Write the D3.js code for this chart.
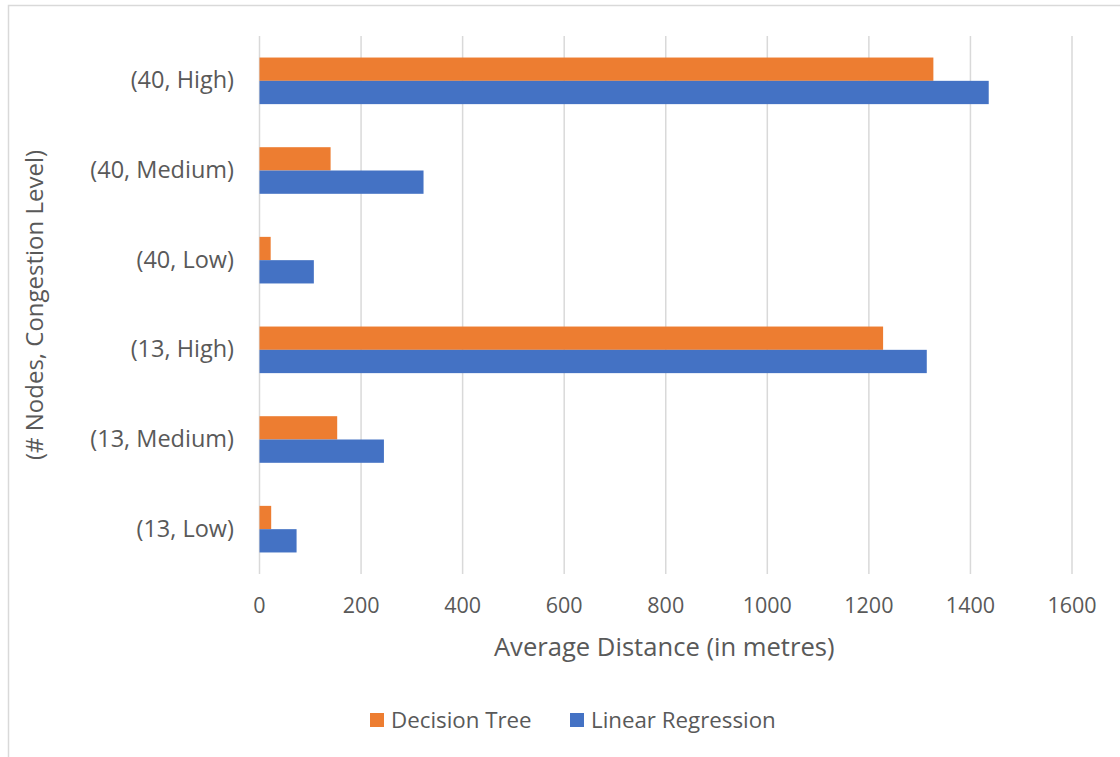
<!DOCTYPE html>
<html>
<head>
<meta charset="utf-8">
<script src="https://cdn.jsdelivr.net/npm/d3@7"></script>
<style>
  html, body { margin: 0; padding: 0; background: #fff; }
  svg { display: block; }
  svg text { font-family: "Open Sans", "Noto Sans", sans-serif; }
</style>
</head>
<body>
<svg id="chart" width="1120" height="757"></svg>
<script>
// Categories listed top to bottom
const categories = ["(40, High)", "(40, Medium)", "(40, Low)", "(13, High)", "(13, Medium)", "(13, Low)"];
const seriesNames = ["Decision Tree", "Linear Regression"];
const decisionTree = [1328, 141, 23, 1229, 154, 24];
const linearRegression = [1437, 324, 108, 1315, 246, 74];
const xTicks = [0, 200, 400, 600, 800, 1000, 1200, 1400, 1600];
const colors = ["#ED7D31", "#4472C4"];

const svg = d3.select("#chart");
const W = 1120, H = 757;
const plot = { left: 259, right: 1071.5, top: 36, bottom: 574 };
const textColor = "#595959";

// Outer chart frame
svg.append("rect")
  .attr("x", 8.5).attr("y", 5.5)
  .attr("width", W + 20).attr("height", H + 20)
  .attr("fill", "#fff").attr("stroke", "#d9d9d9").attr("stroke-width", 1.5);

const x = d3.scaleLinear().domain([0, 1600]).range([plot.left, plot.right]);
const y = d3.scaleBand().domain(categories).range([plot.top, plot.bottom]).paddingInner(0).paddingOuter(0);
const bandH = y.bandwidth();
const barH = 23.3;
const inner = d3.scaleBand().domain(seriesNames)
  .range([bandH / 2 - barH, bandH / 2 + barH]);

// Vertical gridlines and value labels
const xAxis = d3.axisBottom(x).tickValues(xTicks).tickSize(plot.bottom - plot.top).tickFormat(d3.format("d"));
const gx = svg.append("g")
  .attr("transform", `translate(0,${plot.top})`)
  .call(xAxis)
  .attr("font-family", null);
gx.select(".domain").remove();
gx.selectAll(".tick line").attr("stroke", "#d9d9d9").attr("stroke-width", 1.5);
gx.selectAll(".tick text")
  .attr("y", plot.bottom - plot.top + 39)
  .attr("dy", "0")
  .attr("fill", textColor)
  .style("font-size", "21.5px");

// Bars
const rows = categories.map((c, i) => ({ cat: c, values: [decisionTree[i], linearRegression[i]] }));
const groups = svg.append("g").selectAll("g")
  .data(rows).join("g")
  .attr("transform", d => `translate(0,${y(d.cat)})`);
groups.selectAll("rect")
  .data(d => d.values.map((v, k) => ({ name: seriesNames[k], v, k })))
  .join("rect")
  .attr("x", x(0) + 0.5)
  .attr("y", d => inner(d.name))
  .attr("width", d => x(d.v) - x(0) - 0.5)
  .attr("height", inner.bandwidth())
  .attr("fill", d => colors[d.k]);

// Category labels
const yAxis = d3.axisLeft(y).tickSize(0).tickPadding(25);
const gy = svg.append("g").attr("transform", `translate(${plot.left},0)`).call(yAxis)
  .attr("font-family", null);
gy.select(".domain").remove();
gy.selectAll(".tick text")
  .attr("fill", textColor)
  .style("font-size", "23.5px");

// Axis titles
svg.append("text")
  .attr("x", (plot.left + plot.right) / 2 - 1)
  .attr("y", 656)
  .attr("text-anchor", "middle")
  .attr("fill", textColor)
  .style("font-size", "25.6px")
  .text("Average Distance (in metres)");

svg.append("text")
  .attr("transform", `translate(43,${(plot.top + plot.bottom) / 2}) rotate(-90)`)
  .attr("text-anchor", "middle")
  .attr("fill", textColor)
  .style("font-size", "24px")
  .text("(# Nodes, Congestion Level)");

// Legend
const legend = svg.append("g").attr("transform", "translate(370,720)");
const legendX = [0, 200];
seriesNames.forEach((name, k) => {
  const g = legend.append("g").attr("transform", `translate(${legendX[k]},0)`);
  g.append("rect").attr("x", 0).attr("y", -7).attr("width", 14).attr("height", 14).attr("fill", colors[k]);
  g.append("text").attr("x", 21).attr("y", 8)
    .attr("fill", textColor).style("font-size", "22.3px").text(name);
});
</script>
</body>
</html>
